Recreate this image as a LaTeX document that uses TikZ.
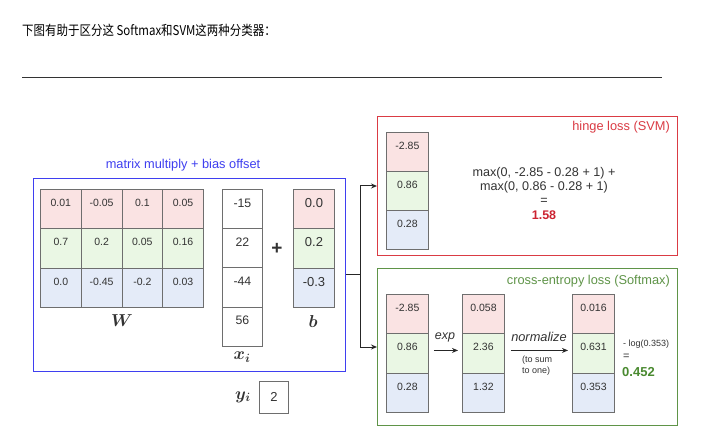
\documentclass[tikz,border=0pt]{standalone}
\usepackage{fontspec}
\usepackage{bm}
\setmainfont{Liberation Sans}
\newfontfamily\cjk{Noto Sans CJK SC}
\usetikzlibrary{arrows.meta,calc}
\definecolor{cellgray}{HTML}{6E6E6E}
\definecolor{fpink}{HTML}{FAE3E3}
\definecolor{fgreen}{HTML}{EAF7E4}
\definecolor{fblue}{HTML}{E4EBF8}
\definecolor{blueline}{HTML}{3F3FF0}
\definecolor{redline}{HTML}{DA3B44}
\definecolor{greenline}{HTML}{5F9448}
\definecolor{redtxt}{HTML}{CC2230}
\definecolor{greentxt}{HTML}{4A8A30}
\definecolor{txt}{HTML}{333333}
\tikzset{
  cellbox/.style={draw=cellgray, line width=0.9pt, anchor=north west, inner sep=0pt},
  celltext/.style={inner sep=0pt, text=txt},
  bigbox/.style={line width=1.3pt, anchor=north west, inner sep=0pt},
  arr/.style={-{Stealth[length=6pt,width=5pt]}, line width=1pt, draw=black!85},
  conn/.style={line width=1pt, draw=black!85},
  mathlbl/.style={inner sep=0pt, text=txt},
}
% name, x, y, w, h, fill, fontsize, text
\newcommand\mycell[8]{%
  \node[cellbox, fill=#6, minimum width=#4pt, minimum height=#5pt] (#1) at (#2,#3) {};
  \node[celltext, font=\fontsize{#7}{#7}\selectfont] (#1t) at ([yshift=-14pt]#1.north) {#8};
}
\begin{document}
\begin{tikzpicture}[x=1pt,y=-1pt]
\useasboundingbox[fill=white] (0,0) rectangle (720,438);
% title
\node[anchor=west, inner sep=0pt] (title) at (22,30) {\scalebox{0.85}[1]{\fontsize{13.5}{15}\selectfont\cjk 下图有助于区分这 Softmax和SVM这两种分类器：}};
\coordinate (hl1) at (22,77);
\coordinate (hl2) at (662,77);
\draw[line width=0.8pt, black!80] (hl1) -- (hl2);

% blue box
\node[bigbox, draw=blueline, minimum width=312pt, minimum height=193pt] (mm) at (33,178) {};
\node[inner sep=0pt, text=blueline, font=\fontsize{12.8}{12.8}\selectfont] (mmlbl) at (183,165) {matrix multiply + bias offset};

% W matrix
\foreach \r/\f [count=\i from 0] in {1/fpink,2/fgreen,3/fblue}{
  \foreach \c [count=\j from 0] in {1,2,3,4}{
    \pgfmathsetmacro\xx{40+\j*40.75}
    \pgfmathsetmacro\yy{189+\i*39.33}
    \node[cellbox, fill=\f, minimum width=40.75pt, minimum height=39.33pt] (w\r\c) at (\xx,\yy) {};
  }
}
\foreach \r/\vals in {1/{0.01,-0.05,0.1,0.05},2/{0.7,0.2,0.05,0.16},3/{0.0,-0.45,-0.2,0.03}}{
  \foreach \v [count=\c] in \vals {
    \node[celltext, font=\fontsize{10.5}{10.5}\selectfont] (w\r\c t) at ([yshift=-14pt]w\r\c.north) {\v};
  }
}
\node[mathlbl, font=\fontsize{19}{19}\selectfont] (Wl) at (122,321) {$\bm{W}$};

% x vector
\mycell{x1}{222}{189}{40}{39.25}{white}{12.3}{-15}
\mycell{x2}{222}{228.25}{40}{39.25}{white}{12.3}{22}
\mycell{x3}{222}{267.5}{40}{39.25}{white}{12.3}{-44}
\mycell{x4}{222}{306.75}{40}{39.25}{white}{12.3}{56}
\node[mathlbl, font=\fontsize{18}{18}\selectfont] (xl) at (242,357) {$\bm{x_i}$};

\node[inner sep=0pt, font=\bfseries\fontsize{19}{19}\selectfont, text=txt] (plus) at (277,249) {+};

% b vector
\mycell{b1}{293}{189}{41}{39.33}{fpink}{13}{0.0}
\mycell{b2}{293}{228.33}{41}{39.33}{fgreen}{13}{0.2}
\mycell{b3}{293}{267.67}{41}{39.33}{fblue}{13}{-0.3}
\node[mathlbl, font=\fontsize{19}{19}\selectfont] (bl) at (313,321) {$\bm{b}$};

% y_i
\node[mathlbl, font=\fontsize{18}{18}\selectfont] (yl) at (243,397) {$\bm{y_i}$};
\node[cellbox, fill=white, minimum width=29pt, minimum height=32pt] (ybox) at (259,381) {};
\node[celltext, font=\fontsize{13}{13}\selectfont] (yboxt) at (ybox.center) {2};

% red box (SVM)
\node[bigbox, draw=redline, minimum width=300pt, minimum height=139pt] (svm) at (377,116) {};
\node[anchor=east, inner sep=0pt, text=redline, font=\fontsize{12.8}{12.8}\selectfont] (svmlbl) at (670,127) {hinge loss (SVM)};
\mycell{s1}{386}{132}{42}{39}{fpink}{10.5}{-2.85}
\mycell{s2}{386}{171}{42}{39}{fgreen}{10.5}{0.86}
\mycell{s3}{386}{210}{42}{39}{fblue}{10.5}{0.28}
\node[inner sep=0pt, text=txt, align=center, font=\fontsize{12.6}{14}\selectfont] (form) at (544,185.5)
  {max(0, -2.85 - 0.28 + 1) +\\max(0, 0.86 - 0.28 + 1)\\=};
\node[inner sep=0pt, text=redtxt, font=\bfseries\fontsize{12.5}{12.5}\selectfont] (svmres) at (544,215) {1.58};

% green box (Softmax)
\node[bigbox, draw=greenline, minimum width=300pt, minimum height=157pt] (ce) at (377,268) {};
\node[anchor=east, inner sep=0pt, text=greenline, font=\fontsize{12.8}{12.8}\selectfont] (celbl) at (670,281) {cross-entropy loss (Softmax)};
\mycell{ga1}{386}{294}{42}{39.33}{fpink}{10.5}{-2.85}
\mycell{ga2}{386}{333.33}{42}{39.33}{fgreen}{10.5}{0.86}
\mycell{ga3}{386}{372.67}{42}{39.33}{fblue}{10.5}{0.28}
\mycell{gb1}{462}{294}{42}{39.33}{fpink}{10.5}{0.058}
\mycell{gb2}{462}{333.33}{42}{39.33}{fgreen}{10.5}{2.36}
\mycell{gb3}{462}{372.67}{42}{39.33}{fblue}{10.5}{1.32}
\mycell{gc1}{572}{294}{42}{39.33}{fpink}{10.5}{0.016}
\mycell{gc2}{572}{333.33}{42}{39.33}{fgreen}{10.5}{0.631}
\mycell{gc3}{572}{372.67}{42}{39.33}{fblue}{10.5}{0.353}

\draw[arr] ([xshift=5pt, yshift=3pt]ga2.east) -- ([xshift=-4pt, yshift=3pt]gb2.west);
\node[inner sep=0pt, text=txt, font=\itshape\fontsize{12.5}{12.5}\selectfont] (explbl) at (445,337) {exp};
\draw[arr] ([xshift=6pt, yshift=3pt]gb2.east) -- ([xshift=-4pt, yshift=3pt]gc2.west);
\node[inner sep=0pt, text=txt, font=\itshape\fontsize{12.8}{12.8}\selectfont] (normlbl) at (539,337) {normalize};
\node[inner sep=0pt, text=txt, align=left, font=\fontsize{9}{11.5}\selectfont] (tosum) at (537,365.5) {(to sum\\to one)};

\node[anchor=west, inner sep=0pt, text=txt, font=\fontsize{9}{9}\selectfont] (logl) at (623,344) {- log(0.353)};
\node[anchor=west, inner sep=0pt, text=txt, font=\fontsize{11}{11}\selectfont] (eql) at (623,357) {=};
\node[anchor=west, inner sep=0pt, text=greentxt, font=\bfseries\fontsize{13}{13}\selectfont] (ceres) at (622,372) {0.452};

% connectors
\coordinate (j) at (360,274.5);
\draw[conn] (mm.east |- j) -- (j);
\draw[arr] (j) |- ($(svm.north west)+(0,70)$);
\draw[arr] (j) |- ($(ce.north west)+(0,79)$);
\end{tikzpicture}
\end{document}
